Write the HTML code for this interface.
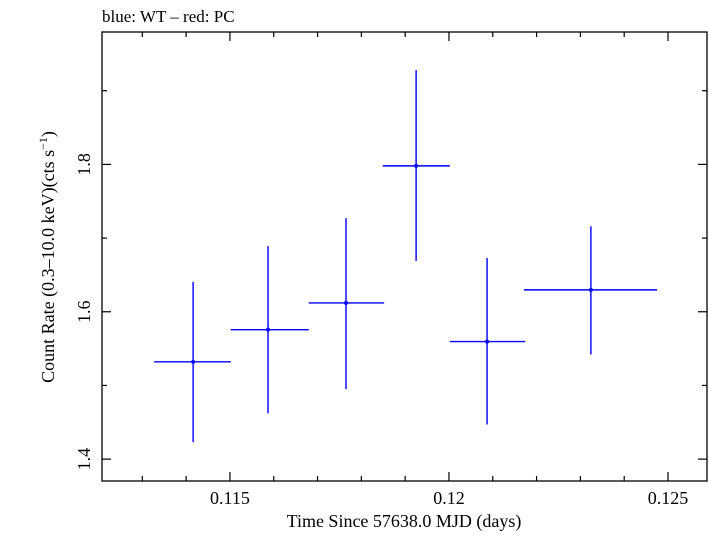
<!DOCTYPE html>
<html><head><meta charset="utf-8"><style>
body{margin:0;background:#fff}
svg text{font-family:"Liberation Serif",serif;fill:#000}
</style></head><body>
<svg id="chart" width="709" height="532" viewBox="0 0 709 532" xmlns="http://www.w3.org/2000/svg">
<text x="102" y="22" font-size="17">blue: WT – red: PC</text>
<g id="axes"></g>
<g id="marks"></g>
<text x="404" y="527" font-size="18" text-anchor="middle">Time Since 57638.0 MJD (days)</text>
<text transform="translate(54,257) rotate(-90)" font-size="18" text-anchor="middle">Count Rate (0.3–10.0 keV)(cts s<tspan font-size="12" dy="-7">−1</tspan><tspan dy="7">)</tspan></text>
</svg>
<script>
const xCenters=[0.11416,0.11587,0.11765,0.11925,0.12087,0.12324];
const xLow=[0.11327,0.11502,0.11680,0.11849,0.12002,0.12171];
const xHigh=[0.11502,0.11680,0.11852,0.12002,0.12174,0.12475];
const yValues=[1.532,1.5757,1.612,1.798,1.5595,1.6297];
const yLow=[1.423,1.462,1.495,1.669,1.447,1.542];
const yHigh=[1.6405,1.689,1.727,1.928,1.673,1.716];
const xTickLabels=["0.115","0.12","0.125"];
const xTickValues=[0.115,0.12,0.125];
const yTickLabels=["1.4","1.6","1.8"];
const yTickValues=[1.4,1.6,1.8];

const L=102,R=707,T=32,B=481;
const X0=0.11208,X1=0.12589,Y0=1.3703,Y1=1.9797;
function sx(v){return L+(v-X0)/(X1-X0)*(R-L);}
function sy(v){return B-(v-Y0)/(Y1-Y0)*(B-T);}
const NS="http://www.w3.org/2000/svg";
function mk(tag,attrs,parent){const e=document.createElementNS(NS,tag);for(const k in attrs)e.setAttribute(k,attrs[k]);parent.appendChild(e);return e;}
const axes=document.getElementById('axes'),marks=document.getElementById('marks');
const frame=mk('rect',{x:L,y:T,width:R-L,height:B-T,fill:'none',stroke:'#000','stroke-width':1.3},axes);


// x ticks
for(let i=113;i<=125;i++){const v=i/1000;const x=sx(v);const major=(i%5===0);const len=major?9:5;
 const t1=mk('line',{x1:x,x2:x,y1:B,y2:B-len,stroke:'#000','stroke-width':1.2},axes);
 
 
 const t2=mk('line',{x1:x,x2:x,y1:T,y2:T+len,stroke:'#000','stroke-width':1.2},axes);
 
 }
xTickValues.forEach((v,i)=>{const t=mk('text',{x:sx(v),y:504,'font-size':18,'text-anchor':'middle'},axes);t.textContent=xTickLabels[i];
 
 });
// y ticks
for(let i=14;i<=19;i++){const v=i/10;const y=sy(v);const major=(i%2===0);const len=major?9:5;
 const t1=mk('line',{x1:L,x2:L+len,y1:y,y2:y,stroke:'#000','stroke-width':1.2},axes);
 
 
 const t2=mk('line',{x1:R,x2:R-len,y1:y,y2:y,stroke:'#000','stroke-width':1.2},axes);
 
 }
yTickValues.forEach((v,i)=>{const y=sy(v);const t=mk('text',{transform:`translate(90,${y}) rotate(-90)`,'font-size':18,'text-anchor':'middle'},axes);t.textContent=yTickLabels[i];
 
 });
// data
xCenters.forEach((xc,i)=>{
 const g=mk('g',{},marks);
 
 
 mk('line',{x1:sx(xLow[i]),x2:sx(xHigh[i]),y1:sy(yValues[i]),y2:sy(yValues[i]),stroke:'#0000ff','stroke-width':1.4},g);
 mk('line',{x1:sx(xc),x2:sx(xc),y1:sy(yLow[i]),y2:sy(yHigh[i]),stroke:'#0000ff','stroke-width':1.4},g);
 mk('circle',{cx:sx(xc),cy:sy(yValues[i]),r:2,fill:'#0000ff'},g);
});
</script>
</body></html>
